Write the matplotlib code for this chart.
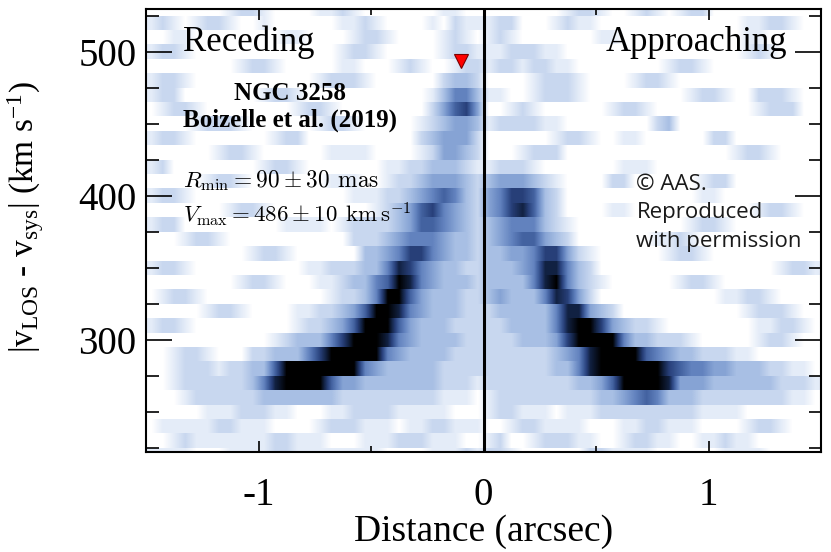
import numpy as np
import matplotlib
matplotlib.use("Agg")
import matplotlib.pyplot as plt
from matplotlib.colors import LinearSegmentedColormap
from matplotlib.ticker import MultipleLocator

# PV cut of NGC 3258.
# 10 km/s channels, 0.05" columns from -1.5" to +1.5"
# intensity levels 0 (white) .. 9 (black)
channel_kms = [530, 520, 510, 500, 490, 480, 470, 460, 450, 440, 430, 420,
               410, 400, 390, 380, 370, 360, 350, 340, 330, 320, 310, 300,
               290, 280, 270, 260, 250, 240, 230, 220]

# x < 0 half (receding side)
receding = [
    "000000012210000112100000001100",
    "121012210010000001121000010211",
    "001100000000110000122100001210",
    "122100000000000001221000001221",
    "000000001221000001100012100122",
    "122100000000000122210000002332",
    "122000000012210000000000013553",
    "012210000000012210000000024674",
    "000012221000000122100000123443",
    "122100000001220000000000234442",
    "000000122100000011110000124432",
    "120000000012210000000112233321",
    "000001221000000011100122344432",
    "122100000000000000111223456532",
    "000000012210000000001234675432",
    "122000000000111101222234665432",
    "000122100000000000222345554332",
    "000000000122100000033457754332",
    "122100000000001122233587543322",
    "000000001221000112335698543332",
    "012210000000000012235996433322",
    "000001221000011223469985433322",
    "122100000000012234699964333222",
    "000000000001233357999854333322",
    "001221000223335799999543333222",
    "001222122336999999954333332222",
    "001222222358999964433333332221",
    "000122222233333332222222221110",
    "000001112221100011222211111000",
    "011111221110000122211101122111",
    "001211111112211100011122211100",
    "111100011112211111111000011121",
]

# x > 0 half (approaching side)
approaching = [
    "000000012210012101220000000000",
    "122000121100000000000001122100",
    "121000000011000000000001100000",
    "112221100000000000000001210000",
    "122122110000000012210000000000",
    "000012221000012210000000000000",
    "110012221000000000122100222100",
    "001210000001221000000000122200",
    "122221100000000230000000000000",
    "000000122100110000002200000000",
    "000122200000000000000012210000",
    "122210000000111000000000000000",
    "344432100002200000012200000000",
    "457763200000000000011000000000",
    "457863200001100000000000122100",
    "345553210000000000122100000000",
    "345664320000000112100000000000",
    "334457742100000012210000000000",
    "333458853200000000000000001221",
    "333358953210000001221000000000",
    "343335874200000000000112210000",
    "233333588432000000000001222100",
    "223333589974322100000000112210",
    "222333479999533222100000122100",
    "222222345899996543322211000000",
    "222222335899999976554433322110",
    "222222223346999984443333332221",
    "122222222233456533322222222110",
    "122111011122222222211110000000",
    "001221111000112211100001221000",
    "120012221100122110011211000000",
    "221000000221111000000111100000",
]

# turnover marker (R_min, V_max)
marker_x = -0.10
marker_v = 494

level_colors = ["#ffffff", "#e4ecf8", "#c8d7ef", "#a8bfe4", "#86a3d4",
                "#6383bf", "#4362a0", "#28407a", "#122243", "#000000"]
cmap = LinearSegmentedColormap.from_list("pv", level_colors)

plt.rcParams['font.family'] = ['Liberation Serif', 'DejaVu Serif']
plt.rcParams['mathtext.fontset'] = 'custom'
plt.rcParams['mathtext.rm'] = 'Liberation Serif'
plt.rcParams['mathtext.it'] = 'Liberation Serif:italic'
plt.rcParams['axes.unicode_minus'] = False

fig = plt.figure(figsize=(8.31, 5.52), dpi=100)
ax = fig.add_axes([146/831, 1 - 452/552, 675/831, 443/552])

for v, left, right in zip(channel_kms, receding, approaching):
    row = left + right
    if len(row) != 60:
        raise ValueError("bad row %d: %d" % (v, len(row)))
    vals = np.array([int(c) for c in row], dtype=float)[None, :]
    ax.imshow(vals, cmap=cmap, vmin=0, vmax=9, origin='lower',
              extent=(-1.5, 1.5, v - 5, v + 5), aspect='auto',
              interpolation='bilinear')

ax.axvline(0, color='k', lw=2.2)
ax.plot(marker_x, marker_v, marker='v', color='red', mec='#7a0000',
        mew=0.8, ms=9.5, ls='none')

ax.set_xlim(-1.5, 1.5)
ax.set_ylim(222.5, 530)
ax.xaxis.set_major_locator(MultipleLocator(1))
ax.xaxis.set_minor_locator(MultipleLocator(0.5))
ax.yaxis.set_major_locator(MultipleLocator(100))
ax.yaxis.set_minor_locator(MultipleLocator(25))

ax.tick_params(which='both', direction='in', top=True, right=True,
               width=1.2, colors='k')
ax.tick_params(axis='y', which='major', length=19, pad=7, labelsize=28)
ax.tick_params(axis='y', which='minor', length=9)
ax.tick_params(axis='x', which='major', length=8, pad=18, labelsize=28)
ax.tick_params(axis='x', which='minor', length=4)
for sp in ax.spines.values():
    sp.set_linewidth(1.5)

ax.set_xlabel("Distance (arcsec)", fontsize=27, labelpad=0)
ax.set_ylabel(r"|v$_{\rm LOS}$ - v$_{\rm sys}$| (km s$^{-1}$)", fontsize=24)
ax.yaxis.set_label_coords(-0.148, 0.53)

ax.text(-1.335, 507, "Receding", fontsize=25, ha='left', va='center')
ax.text(1.35, 507, "Approaching", fontsize=25, ha='right', va='center')
ax.text(-0.86, 471, "NGC 3258", fontsize=18, fontweight='bold',
        ha='center', va='center')
ax.text(-0.86, 453, "Boizelle et al. (2019)", fontsize=18,
        fontweight='bold', ha='center', va='center')
ax.text(-1.335, 411, r"$R_{\rm min} = 90 \pm 30\;\, {\rm mas}$",
        fontsize=16.8, ha='left', va='center', math_fontfamily='cm')
ax.text(-1.335, 387, r"$V_{\rm max} = 486 \pm 10\;\, {\rm km\,s^{-1}}$",
        fontsize=16.5, ha='left', va='center', math_fontfamily='cm')

for txt, v in [("\u00a9 AAS.", 408), ("Reproduced", 388.5),
               ("with permission", 368.5)]:
    ax.text(0.68, v, txt, fontsize=16, family='Open Sans', color='#1a1a1a',
            ha='left', va='center')

fig.savefig("out.png", dpi=100)
